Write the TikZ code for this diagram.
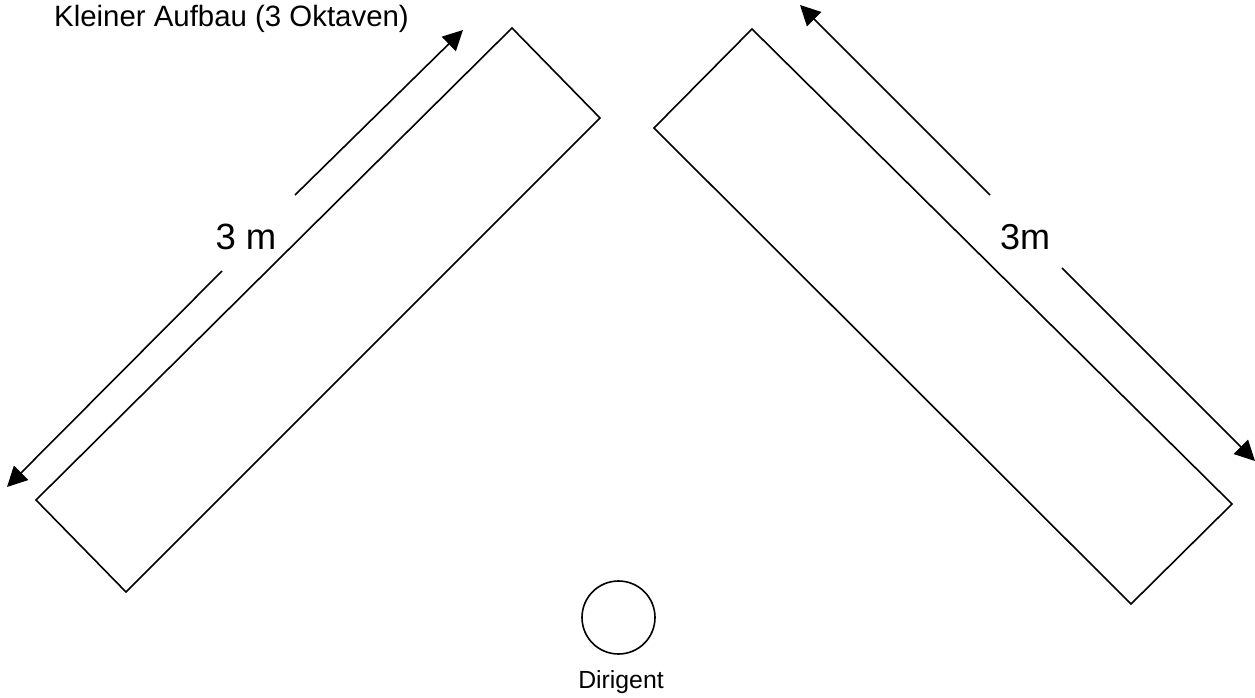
\documentclass[tikz,border=0pt]{standalone}
\usepackage{fontspec}
\setmainfont{Liberation Sans}
\usetikzlibrary{arrows.meta}
\begin{document}
\begin{tikzpicture}[x=1bp,y=-1bp,
  outline/.style={draw=black,line width=1.6bp,line join=miter},
  dimarrow/.style={draw=black,line width=1.6bp,-{Triangle[length=20bp,width=20bp]}},
  lbl/.style={inner sep=0pt,anchor=base}]
\useasboundingbox (0,0) rectangle (1255,698);
% left table
\coordinate (LT) at (512,28);
\coordinate (LR) at (600,118);
\coordinate (LB) at (126,592);
\coordinate (LL) at (36,500);
\draw[outline] (LT) -- (LR) -- (LB) -- (LL) -- cycle;
% right table
\coordinate (RT) at (752,29);
\coordinate (RL) at (654,128);
\coordinate (RB) at (1131,604);
\coordinate (RR) at (1232,504);
\draw[outline] (RT) -- (RR) -- (RB) -- (RL) -- cycle;
% left dimension
\coordinate (la1) at (295,195);
\coordinate (la2) at (463,30);
\coordinate (lb1) at (222,271);
\coordinate (lb2) at (7,487);
\draw[dimarrow] (la1) -- (la2);
\draw[dimarrow] (lb1) -- (lb2);
\node[lbl,font=\fontsize{36.5bp}{40bp}\selectfont] (l3m) at (246,250) {3 m};
% right dimension
\coordinate (ra1) at (990,195);
\coordinate (ra2) at (800,5);
\coordinate (rb1) at (1062,268);
\coordinate (rb2) at (1255,461);
\draw[dimarrow] (ra1) -- (ra2);
\draw[dimarrow] (rb1) -- (rb2);
\node[lbl,font=\fontsize{36bp}{40bp}\selectfont] (r3m) at (1025,250) {3m};
% title
\node[inner sep=0pt,anchor=base west,font=\fontsize{29.4bp}{32bp}\selectfont] (title) at (54,27) {Kleiner Aufbau (3 Oktaven)};
% conductor
\node[draw=black,line width=1.6bp,circle,minimum size=73bp,inner sep=0pt] (dir) at (618.5,617.5) {};
\node[lbl,font=\fontsize{24.8bp}{28bp}\selectfont] (dirl) at (621,688) {Dirigent};
\end{tikzpicture}
\end{document}
